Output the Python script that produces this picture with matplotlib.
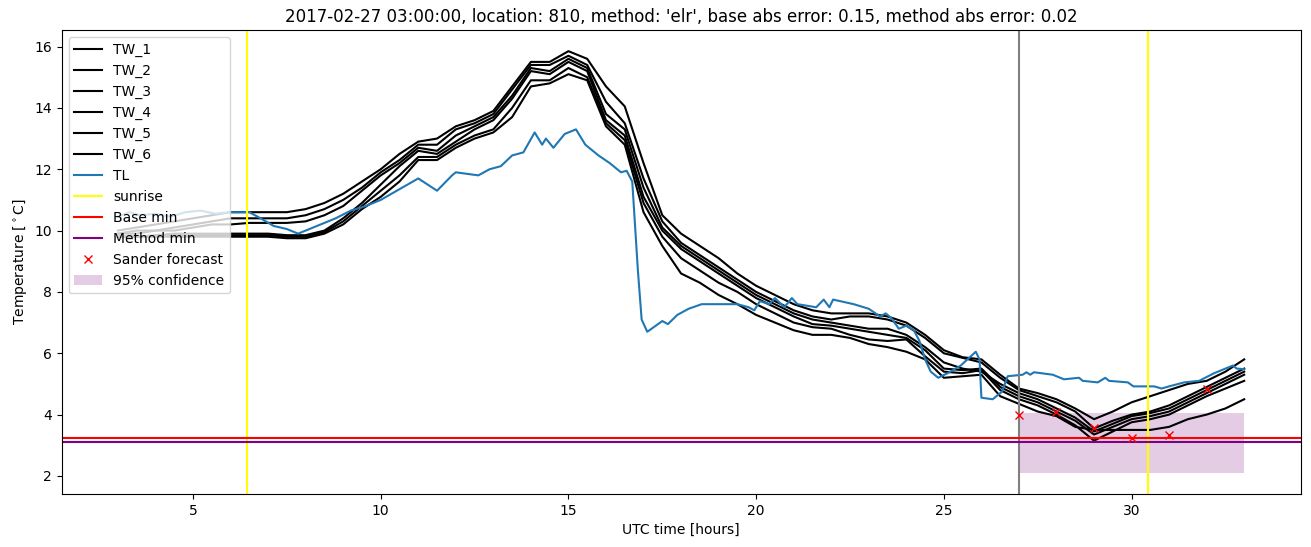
import matplotlib
matplotlib.use("Agg")
import matplotlib.pyplot as plt

# time axis for the TW series (half-hour steps)
hours = [3.0, 3.5, 4.0, 4.5, 5.0, 5.5, 6.0, 6.5, 7.0, 7.5, 8.0, 8.5, 9.0, 9.5, 10.0, 10.5,
         11.0, 11.5, 12.0, 12.5, 13.0, 13.5, 14.0, 14.5, 15.0, 15.5, 16.0, 16.5, 17.0, 17.5,
         18.0, 18.5, 19.0, 19.5, 20.0, 20.5, 21.0, 21.5, 22.0, 22.5, 23.0, 23.5, 24.0, 24.5,
         25.0, 25.5, 26.0, 26.5, 27.0, 27.5, 28.0, 28.5, 29.0, 29.5, 30.0, 30.5, 31.0, 31.5,
         32.0, 32.5, 33.0]

tw_1 = [10.0, 10.1, 10.2, 10.3, 10.4, 10.5, 10.6, 10.6, 10.6, 10.6, 10.7, 10.9, 11.2, 11.6, 12.0, 12.5,
        12.9, 13.0, 13.4, 13.6, 13.9, 14.7, 15.5, 15.5, 15.85, 15.6, 14.7, 14.05, 12.2, 10.5,
        9.9, 9.5, 9.1, 8.6, 8.2, 7.9, 7.6, 7.4, 7.3, 7.3, 7.3, 7.2, 7.0, 6.6,
        6.1, 5.87, 5.8, 5.3, 4.85, 4.7, 4.5, 4.2, 3.85, 4.1, 4.4, 4.6, 4.8, 5.0,
        5.1, 5.4, 5.8]
tw_2 = [9.9, 10.0, 10.0, 10.1, 10.2, 10.3, 10.4, 10.4, 10.4, 10.4, 10.5, 10.7, 11.0, 11.4, 11.9, 12.3,
        12.8, 12.8, 13.3, 13.5, 13.8, 14.6, 15.4, 15.4, 15.7, 15.4, 14.2, 13.5, 11.7, 10.3,
        9.6, 9.2, 8.8, 8.4, 8.0, 7.7, 7.4, 7.2, 7.1, 7.2, 7.2, 7.1, 6.9, 6.5,
        6.0, 5.85, 5.7, 5.2, 4.8, 4.6, 4.4, 4.1, 3.55, 3.8, 4.0, 4.1, 4.3, 4.6,
        4.9, 5.2, 5.5]
tw_3 = [9.9, 9.9, 10.0, 10.0, 10.1, 10.2, 10.2, 10.25, 10.25, 10.25, 10.3, 10.5, 10.8, 11.3, 11.8, 12.2,
        12.7, 12.6, 13.1, 13.4, 13.7, 14.4, 15.3, 15.2, 15.6, 15.3, 13.8, 13.3, 11.4, 10.1,
        9.5, 9.1, 8.7, 8.3, 7.9, 7.6, 7.3, 7.1, 7.0, 6.9, 6.8, 6.8, 6.6, 6.2,
        5.7, 5.5, 5.4, 5.0, 4.7, 4.5, 4.2, 3.9, 3.45, 3.7, 3.95, 4.05, 4.2, 4.5,
        4.8, 5.1, 5.4]
tw_4 = [9.8, 9.8, 9.85, 9.9, 9.9, 9.9, 9.9, 9.9, 9.9, 9.85, 9.85, 10.0, 10.4, 10.9, 11.5, 12.1,
        12.6, 12.5, 12.9, 13.3, 13.6, 14.3, 15.2, 15.1, 15.5, 15.2, 13.6, 13.1, 11.1, 10.0,
        9.4, 9.0, 8.6, 8.2, 7.8, 7.5, 7.2, 6.95, 6.9, 6.8, 6.7, 6.6, 6.5, 6.1,
        5.5, 5.45, 5.5, 4.9, 4.6, 4.4, 4.1, 3.8, 3.35, 3.6, 3.85, 3.95, 4.1, 4.4,
        4.7, 5.0, 5.3]
tw_5 = [9.8, 9.8, 9.8, 9.85, 9.85, 9.85, 9.85, 9.85, 9.85, 9.8, 9.8, 9.95, 10.3, 10.8, 11.3, 11.8,
        12.4, 12.4, 12.8, 13.1, 13.3, 14.0, 14.9, 14.9, 15.3, 15.0, 13.5, 12.95, 10.9, 9.8,
        9.1, 8.7, 8.3, 8.0, 7.6, 7.3, 7.0, 6.85, 6.8, 6.6, 6.45, 6.4, 6.45, 5.9,
        5.4, 5.35, 5.45, 4.8, 4.5, 4.3, 4.0, 3.65, 3.15, 3.45, 3.75, 3.85, 4.0, 4.3,
        4.6, 4.85, 5.1]
tw_6 = [9.8, 9.8, 9.8, 9.8, 9.8, 9.8, 9.8, 9.8, 9.8, 9.75, 9.75, 9.9, 10.2, 10.7, 11.1, 11.6,
        12.3, 12.3, 12.7, 13.0, 13.2, 13.7, 14.7, 14.8, 15.1, 14.9, 13.4, 12.8, 10.6, 9.5,
        8.6, 8.3, 7.9, 7.6, 7.25, 7.0, 6.75, 6.6, 6.6, 6.5, 6.3, 6.2, 6.05, 5.8,
        5.2, 5.25, 5.3, 4.6, 4.35, 4.1, 3.95, 3.6, 3.5, 3.5, 3.5, 3.5, 3.6, 3.85,
        4.0, 4.2, 4.5]

# TL has its own (uneven) time stamps
tl_hours = [3.0, 3.3, 3.6, 4.0, 4.4, 4.8, 5.2, 5.6, 6.0, 6.5, 6.8, 7.15, 7.5, 7.8, 8.0, 8.4, 8.8,
            9.2, 9.6, 10.0, 10.5, 11.0, 11.5, 11.9, 12.0, 12.6, 12.9, 13.2, 13.5, 13.8, 14.1,
            14.3, 14.4, 14.6, 14.9, 15.2, 15.45, 15.8, 16.1, 16.4, 16.55, 16.7, 16.85, 16.95,
            17.1, 17.5, 17.65, 17.9, 18.2, 18.55, 19.1, 19.5, 19.8, 19.95, 20.1, 20.35, 20.5,
            20.75, 20.95, 21.1, 21.6, 21.8, 21.95, 22.05, 22.6, 23.0, 23.3, 23.45, 23.6, 23.8,
            24.0, 24.2, 24.35, 24.5, 24.65, 24.85, 25.1, 25.45, 25.85, 25.95, 26.0, 26.3, 26.55,
            26.7, 27.1, 27.2, 27.3, 27.4, 27.9, 28.2, 28.6, 28.7, 29.1, 29.3, 29.4, 29.9, 30.05,
            30.6, 30.8, 31.0, 31.4, 31.8, 32.2, 32.5, 32.7, 32.8, 33.0]
tl = [10.45, 10.6, 10.5, 10.55, 10.45, 10.6, 10.65, 10.55, 10.6, 10.6, 10.4, 10.15, 10.05, 9.9, 10.0, 10.2, 10.4,
      10.65, 10.8, 11.0, 11.35, 11.7, 11.3, 11.8, 11.9, 11.8, 12.0, 12.1, 12.45, 12.55, 13.2,
      12.8, 13.0, 12.7, 13.15, 13.3, 12.8, 12.45, 12.2, 11.9, 11.95, 11.6, 8.7, 7.1,
      6.7, 7.05, 6.95, 7.25, 7.45, 7.6, 7.6, 7.6, 7.5, 7.4, 7.7, 7.6, 7.8,
      7.5, 7.8, 7.6, 7.5, 7.75, 7.5, 7.75, 7.6, 7.45, 7.2, 7.3, 7.15, 6.8,
      6.9, 6.75, 6.4, 5.8, 5.4, 5.2, 5.35, 5.6, 6.05, 5.8, 4.55, 4.5, 4.75,
      5.25, 5.3, 5.38, 5.3, 5.38, 5.3, 5.15, 5.2, 5.1, 5.05, 5.2, 5.1, 5.05, 4.92,
      4.92, 4.85, 4.92, 5.05, 5.1, 5.35, 5.5, 5.6, 5.5, 5.48]

sunrise = [6.45, 30.45]
now_hour = 27.0
base_min = 3.25
method_min = 3.09

sander_hours = [27, 28, 29, 30, 31, 32]
sander_values = [4.0, 4.08, 3.56, 3.24, 3.33, 4.82]

conf_hours = [27, 33]
conf_low = 2.1
conf_high = 4.06

fig, ax = plt.subplots(figsize=(13.11, 5.47), dpi=100)
fig.subplots_adjust(left=0.047, right=0.992, bottom=0.097, top=0.945)

for i, tw in enumerate([tw_1, tw_2, tw_3, tw_4, tw_5, tw_6]):
    ax.plot(hours, tw, color="black", label=f"TW_{i + 1}")
ax.plot(tl_hours, tl, color="#1f77b4", label="TL")

ax.axvline(sunrise[0], color="yellow", label="sunrise")
ax.axvline(sunrise[1], color="yellow")
ax.axvline(now_hour, color="gray")
ax.axhline(base_min, color="red", label="Base min")
ax.axhline(method_min, color="purple", label="Method min")
ax.plot(sander_hours, sander_values, "x", color="red", linestyle="none", label="Sander forecast")
ax.fill_between(conf_hours, conf_low, conf_high, color="purple", alpha=0.2, linewidth=0,
                label="95% confidence")

ax.set_title("2017-02-27 03:00:00, location: 810, method: 'elr', base abs error: 0.15, "
             "method abs error: 0.02")
ax.set_xlabel("UTC time [hours]")
ax.set_ylabel("Temperature [$^\\circ$C]")
ax.legend(loc="upper left")

fig.savefig("out.png")
